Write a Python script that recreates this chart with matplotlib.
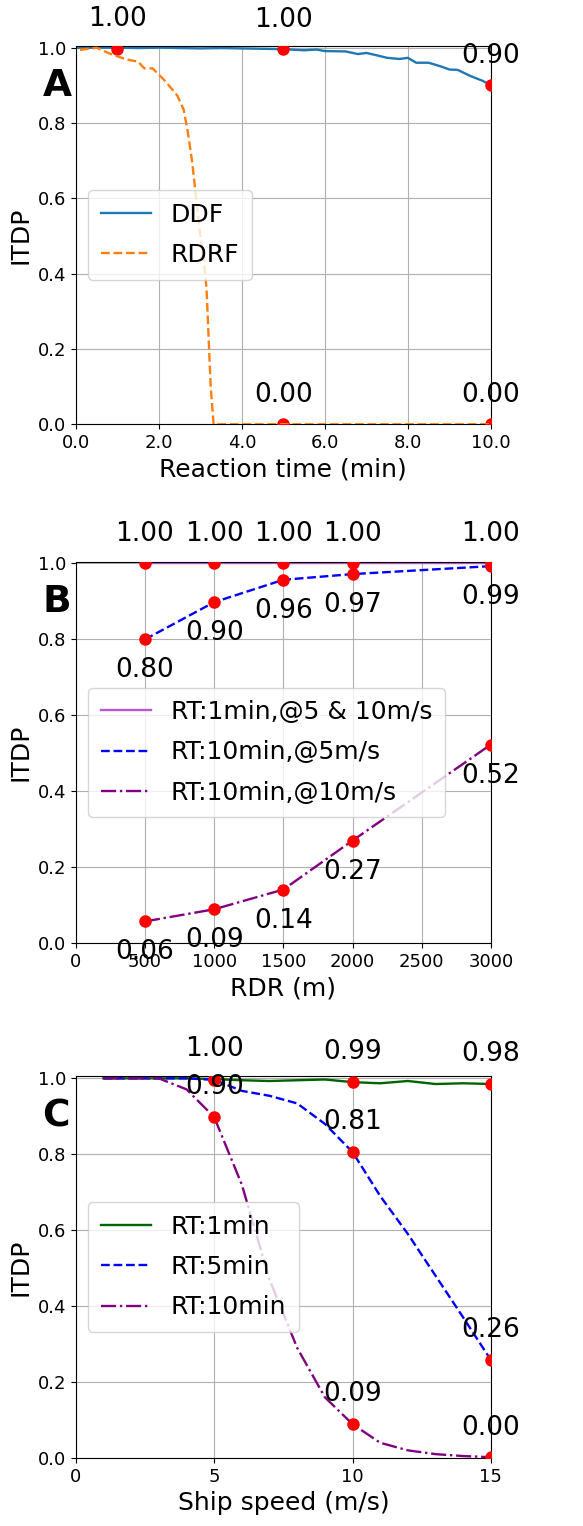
import matplotlib
matplotlib.use('Agg')
import matplotlib.pyplot as plt
import numpy as np

# Panel A: reaction time
rt = [0.0, 0.1, 0.5, 1.0, 1.5, 2.0, 2.5, 3.0, 3.5, 4.0, 4.5, 5.0, 5.5, 5.8, 6.0, 6.5,
      6.8, 7.0, 7.2, 7.5, 7.8, 8.0, 8.2, 8.5, 8.8, 9.0, 9.2, 9.5, 9.8, 10.0]
ddf = [1.0, 1.0, 1.0, 1.0, 0.999, 1.0, 0.999, 0.998, 0.999, 0.998, 0.997, 0.996, 0.993,
       0.995, 0.991, 0.990, 0.983, 0.986, 0.981, 0.973, 0.970, 0.973, 0.960, 0.960,
       0.950, 0.942, 0.941, 0.925, 0.912, 0.900]
rt_rdrf = [0.1, 0.5, 0.8, 1.05, 1.25, 1.5, 1.65, 1.85, 2.15, 2.45, 2.6, 2.7, 2.8, 2.9,
           3.0, 3.1, 3.15, 3.25, 3.32, 5.0, 10.0]
rdrf = [0.994, 1.0, 0.985, 0.975, 0.968, 0.963, 0.945, 0.945, 0.912, 0.872, 0.835,
        0.775, 0.70, 0.60, 0.50, 0.42, 0.36, 0.10, 0.0, 0.0, 0.0]
a_dots_x = [1, 5, 10]
a_ddf_dots = [0.997, 0.996, 0.90]
a_rdrf_dots_x = [5, 10]
a_rdrf_dots = [0.0, 0.0]

# Panel B: RDR
rdr = [500, 1000, 1500, 2000, 3000]
b_rt1 = [1.0, 1.0, 1.0, 1.0, 1.0]
b_rt10_5 = [0.80, 0.898, 0.957, 0.972, 0.993]
b_rt10_10 = [0.057, 0.089, 0.141, 0.27, 0.523]

# Panel C: ship speed
speed = list(range(1, 16))
c_rt1 = [1.0, 1.0, 1.0, 1.0, 0.998, 0.995, 0.993, 0.995, 0.997, 0.990, 0.987, 0.993,
         0.985, 0.987, 0.985]
c_rt5 = [1.0, 1.0, 1.0, 1.0, 0.996, 0.967, 0.954, 0.934, 0.88, 0.806, 0.69, 0.59,
         0.48, 0.37, 0.258]
c_rt10 = [1.0, 1.0, 1.0, 0.971, 0.898, 0.72, 0.47, 0.29, 0.16, 0.089, 0.04, 0.02,
          0.01, 0.005, 0.002]
c_dots_x = [5, 10, 15]

fig = plt.figure(figsize=(5.83, 15.26), dpi=100)
ax_a = fig.add_axes([0.130, 0.722, 0.712, 0.248])
ax_b = fig.add_axes([0.130, 0.382, 0.712, 0.250])
ax_c = fig.add_axes([0.130, 0.0446, 0.712, 0.250])

TICK = 13
LBL = 18
ANN = 19
LEG = 18
LW = 1.7

drawn = set()


def label(ax, xs, ys, above=True):
    ax.plot(xs, ys, 'o', color='red', ms=8, zorder=3)
    for x, y in zip(xs, ys):
        txt = f'{y:.2f}'
        key = (id(ax), x, txt, above)
        if key in drawn:
            continue  # same label already on this point
        drawn.add(key)
        if above:
            ax.annotate(txt, (x, y), xytext=(0, 12), textcoords='offset points',
                        ha='center', va='bottom', fontsize=ANN, annotation_clip=False)
        else:
            ax.annotate(txt, (x, y), xytext=(0, -13), textcoords='offset points',
                        ha='center', va='top', fontsize=ANN, annotation_clip=False)


# A
ax_a.plot(rt, ddf, '-', color='tab:blue', lw=LW, label='DDF', zorder=2)
ax_a.plot(rt_rdrf, rdrf, '--', color='tab:orange', lw=LW, label='RDRF', zorder=4)
label(ax_a, a_dots_x, a_ddf_dots)
label(ax_a, a_rdrf_dots_x, a_rdrf_dots)
ax_a.set_xlim(0, 10)
ax_a.set_xticks(np.arange(0, 10.1, 2))
ax_a.set_xticklabels([f'{v:.1f}' for v in np.arange(0, 10.1, 2)])
ax_a.set_xlabel('Reaction time (min)', fontsize=LBL)

# B
ax_b.plot(rdr, b_rt1, '-', color='mediumorchid', lw=LW, label='RT:1min,@5 & 10m/s')
ax_b.plot(rdr, b_rt10_5, '--', color='blue', lw=LW, label='RT:10min,@5m/s')
ax_b.plot(rdr, b_rt10_10, '-.', color='purple', lw=LW, label='RT:10min,@10m/s')
label(ax_b, rdr, b_rt1)
label(ax_b, rdr, b_rt10_5, above=False)
label(ax_b, rdr, b_rt10_10, above=False)
ax_b.set_xlim(0, 3000)
ax_b.set_xticks(np.arange(0, 3001, 500))
ax_b.set_xlabel('RDR (m)', fontsize=LBL)

# C
ax_c.plot(speed, c_rt1, '-', color='darkgreen', lw=LW, label='RT:1min')
ax_c.plot(speed, c_rt5, '--', color='blue', lw=LW, label='RT:5min')
ax_c.plot(speed, c_rt10, '-.', color='purple', lw=LW, label='RT:10min')
label(ax_c, c_dots_x, [c_rt1[s - 1] for s in c_dots_x])
label(ax_c, c_dots_x, [c_rt5[s - 1] for s in c_dots_x])
label(ax_c, c_dots_x, [c_rt10[s - 1] for s in c_dots_x])
ax_c.set_xlim(0, 15)
ax_c.set_xticks([0, 5, 10, 15])
ax_c.set_xlabel('Ship speed (m/s)', fontsize=LBL)

for ax, letter in zip([ax_a, ax_b, ax_c], 'ABC'):
    ax.set_ylim(0, 1.005)
    ax.set_yticks(np.arange(0, 1.01, 0.2))
    ax.set_ylabel('ITDP', fontsize=LBL)
    ax.tick_params(labelsize=TICK)
    ax.grid(True)
    ax.legend(loc='center left', fontsize=LEG, labelspacing=0.65, borderpad=0.5)
    ax.text(-0.08, 0.894, letter, transform=ax.transAxes, fontsize=27,
            fontweight='bold', ha='left', va='center')

fig.savefig('out.png', dpi=100)
